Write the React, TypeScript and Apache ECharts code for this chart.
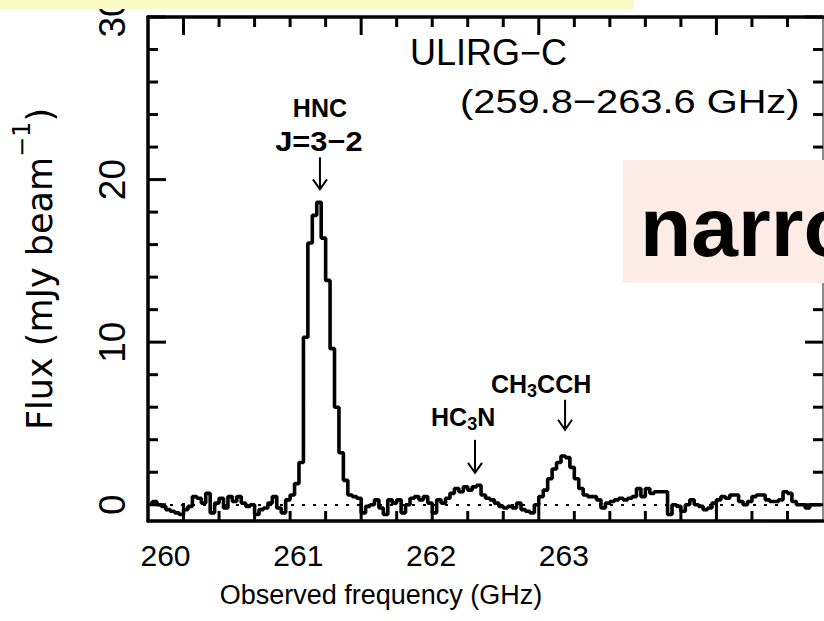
import React, { useEffect, useRef } from "react";
import * as echarts from "echarts";

// ---- data -----------------------------------------------------------------
// spectrum: flux density per 25 MHz channel (mJy/beam)
const FLUX = [
  0.1, 0.2, 0.0, -0.1, -0.3, -0.4, -0.5, -0.6, -0.3, -0.1,
  0.5, 0.4, 0.1, 0.7, -0.5, 0.1, 0.4, -0.2, 0.5, 0.2,
  0.5, 0.1, -0.1, 0.0, -0.6, -0.3, -0.2, 0.1, 0.5, -0.2,
  -0.5, 0.3, 0.6, 1.3, 2.6, 10.3, 16.1, 17.8, 18.6, 16.4,
  13.8, 9.6, 6.0, 3.2, 1.5, 0.6, 0.5, 0.4, -0.5, -0.1,
  0.0, 0.3, -0.2, -0.6, 0.3, 0.1, 0.3, -0.5, 0.0, 0.4,
  0.5, 0.3, 0.5, 0.1, -0.5, 0.3, 0.1, 0.4, 0.7, 1.0,
  0.8, 1.1, 0.9, 1.1, 1.2, 0.6, 0.4, 0.3, 0.1, -0.1,
  -0.2, -0.1, -0.2, 0.1, -0.3, -0.4, -0.5, 0.0, 0.5, 0.9,
  1.6, 2.2, 2.6, 3.0, 2.9, 2.3, 1.6, 1.0, 0.6, 0.5,
  0.5, 0.3, -0.2, 0.1, 0.2, 0.3, 0.4, 0.3, 0.4, 0.5,
  1.0, 0.5, 1.0, 0.7, 0.8, 0.8, 0.8, -0.6, 0.0, -0.1,
  -0.4, 0.0, 0.3, 0.0, -0.1, -0.3, -0.2, 0.1, 0.3, 0.5,
  0.4, 0.6, 0.6, 0.2, 0.0, 0.2, 0.5, 0.6, 0.6, 0.3,
  0.2, 0.2, 0.3, 0.8, 0.7, 0.2, 0.0, 0.0, -0.2, 0.0,
  0.0, 0.0,
];
const CHANNEL_START_GHZ = 259.8125; // centre of first channel
const CHANNEL_WIDTH_GHZ = 0.025;

const X_RANGE = [259.8, 263.6];
const Y_RANGE = [-1, 30];
const X_MAJOR_TICKS = [260, 261, 262, 263];
const X_MINOR_TICKS = [
  260.2, 260.4, 260.6, 260.8, 261.2, 261.4, 261.6, 261.8,
  262.2, 262.4, 262.6, 262.8, 263.2, 263.4,
];
const X_TICK_LABELS = [260, 261, 262, 263];
const Y_MAJOR_TICKS = [0, 10, 20, 30];
const Y_MINOR_TICKS = [2, 4, 6, 8, 12, 14, 16, 18, 22, 24, 26, 28];

// line identifications: arrow (frequency, from flux, to flux)
const LINE_ARROWS = [
  { freq: 260.768, from: 21.37, to: 19.4 },
  { freq: 261.641, from: 3.99, to: 1.96 },
  { freq: 262.148, from: 6.46, to: 4.61 },
];
const LINE_LABELS = [
  { text: "HNC", freq: 260.768, flux: 24.39 },
  { text: "J=3−2", freq: 260.762, flux: 22.36 },
  { text: "HC{s|3}N", freq: 261.574, flux: 5.41 },
  { text: "CH{s|3}CCH", freq: 262.013, flux: 7.44 },
];
const TITLE_LINES = [
  { text: "ULIRG−C", freq: 261.275, flux: 27.81 },
  { text: "(259.8−263.6 GHz)", freq: 261.557, flux: 24.82 },
];
const BANNER_TEXT = "narrow";

// ---- styling / layout ------------------------------------------------------
const FONT = "'Liberation Sans', Arial, Helvetica, sans-serif";
const FONT_WIDE = "'DejaVu Sans', 'Liberation Sans', sans-serif";
const W = 824;
const H = 621;
const GRID = { left: 148, right: 1, top: 17, bottom: 100 };
// tick-label scale of the original figure (labels not aligned with ticks)
const LABEL_AXIS_MIN = 259.8682;
const LABEL_AXIS_MAX = 264.951;
const MAJOR_LEN = 18;
const MINOR_LEN = 10;
const TICK_COLOR = "#000";
const TICK_WIDTH = 3;

function frameLine(position: string, isX: boolean, extra: any = {}) {
  return {
    type: "value",
    position,
    min: isX ? X_RANGE[0] : Y_RANGE[0],
    max: isX ? X_RANGE[1] : Y_RANGE[1],
    splitLine: { show: false },
    axisLabel: { show: false },
    axisTick: { show: false },
    axisLine: {
      show: true,
      onZero: false,
      lineStyle:
        position === "right"
          ? { color: "#666", width: 1.5 }
          : { color: "#000", width: 3.5 },
    },
    ...extra,
  };
}

export default function App() {
  const ref = useRef<HTMLDivElement>(null);

  useEffect(() => {
    document.body.style.margin = "0";
    if (!ref.current) return;
    const chart = echarts.init(ref.current, null, { renderer: "svg" });

    const seriesData = FLUX.map((v, i) => [
      CHANNEL_START_GHZ + i * CHANNEL_WIDTH_GHZ,
      v,
    ]);

    const yLeft = frameLine("left", false, {
      axisLabel: {
        show: true,
        customValues: Y_MAJOR_TICKS,
        rotate: 90,
        margin: 17,
        fontSize: 37,
        fontFamily: FONT,
        color: "#000",
      },
      name: "Flux (mJy beam{sup|−1})",
      nameLocation: "middle",
      nameRotate: 90,
      nameGap: 78,
      nameTextStyle: {
        fontFamily: FONT_WIDE,
        fontSize: 35,
        color: "#000",
        lineHeight: 60,
        rich: {
          sup: {
            fontFamily: FONT_WIDE,
            fontSize: 24,
            lineHeight: 24,
            verticalAlign: "top",
            color: "#000",
          },
        },
      },
    });

    const labelAxis = {
      type: "value",
      position: "bottom",
      min: LABEL_AXIS_MIN,
      max: LABEL_AXIS_MAX,
      splitLine: { show: false },
      axisLine: { show: false, onZero: false },
      axisTick: { show: false },
      axisLabel: {
        show: true,
        customValues: X_TICK_LABELS,
        margin: 19,
        fontSize: 30,
        fontFamily: FONT,
        color: "#000",
      },
      name: "Observed frequency (GHz)",
      nameLocation: "middle",
      nameGap: 60,
      nameTextStyle: {
        fontSize: 27,
        fontFamily: FONT,
        color: "#000",
        padding: [0, 209, 0, 0],
      },
    };

    chart.setOption({
      animation: false,
      backgroundColor: "#fff",
      grid: { ...GRID, containLabel: false, outerBoundsMode: "none" },
      xAxis: [frameLine("bottom", true), frameLine("top", true), labelAxis],
      yAxis: [yLeft, frameLine("right", false)],
      series: [
        {
          type: "line",
          xAxisIndex: 0,
          yAxisIndex: 0,
          data: seriesData,
          step: "middle",
          symbol: "none",
          clip: true,
          lineStyle: { color: "#000", width: 3.6 },
          z: 5,
          markLine: {
            silent: true,
            symbol: "none",
            label: { show: false },
            lineStyle: { color: "#000", width: 2, type: [3, 8] },
            data: [{ yAxis: 0 }],
          },
        },
      ],
    });

    const toPx = (f: number, v: number) =>
      chart.convertToPixel({ seriesIndex: 0 }, [f, v]) as number[];

    // frame ticks on all four sides (inside), placed via the axes
    const tickPolys: any[] = [];
    const addTick = (pts: number[][]) =>
      tickPolys.push({
        type: "polyline",
        z: 60,
        shape: { points: pts },
        style: { stroke: TICK_COLOR, lineWidth: TICK_WIDTH, fill: null },
      });
    const xt = (vals: number[], len: number) =>
      vals.forEach((v) => {
        const b = toPx(v, Y_RANGE[0]);
        const t = toPx(v, Y_RANGE[1]);
        addTick([
          [b[0], b[1]],
          [b[0], b[1] - len],
        ]);
        addTick([
          [t[0], t[1]],
          [t[0], t[1] + len],
        ]);
      });
    const yt = (vals: number[], len: number) =>
      vals.forEach((v) => {
        const l = toPx(X_RANGE[0], v);
        const r = toPx(X_RANGE[1], v);
        addTick([
          [l[0], l[1]],
          [l[0] + len, l[1]],
        ]);
        addTick([
          [r[0], r[1]],
          [r[0] - len, r[1]],
        ]);
      });
    xt(X_MAJOR_TICKS, MAJOR_LEN);
    xt(X_MINOR_TICKS, MINOR_LEN);
    yt(Y_MAJOR_TICKS, MAJOR_LEN);
    yt(Y_MINOR_TICKS, MINOR_LEN);

    const graphics: any[] = [];

    LINE_ARROWS.forEach((a) => {
      const p0 = toPx(a.freq, a.from);
      const p1 = toPx(a.freq, a.to);
      graphics.push({
        type: "line",
        z: 50,
        shape: { x1: p0[0], y1: p0[1], x2: p1[0], y2: p1[1] },
        style: { stroke: "#000", lineWidth: 2 },
      });
      graphics.push({
        type: "polyline",
        z: 50,
        shape: {
          points: [
            [p1[0] - 7, p1[1] - 10],
            [p1[0], p1[1]],
            [p1[0] + 7, p1[1] - 10],
          ],
        },
        style: { stroke: "#000", lineWidth: 2, fill: null },
      });
    });

    LINE_LABELS.forEach((l, i) => {
      const p = toPx(l.freq, l.flux);
      const isJ = i === 1;
      graphics.push({
        type: "text",
        z: 50,
        x: p[0],
        y: p[1],
        scaleX: isJ ? 1.1 : 1,
        style: {
          text: l.text,
          fill: "#000",
          fontFamily: FONT,
          fontWeight: "bold",
          fontSize: isJ ? 28 : 25,
          lineHeight: 32,
          align: "center",
          verticalAlign: "middle",
          textAlign: "center",
          textVerticalAlign: "middle",
          rich: {
            s: {
              fontFamily: FONT,
              fontWeight: "bold",
              fontSize: 18,
              lineHeight: 18,
              verticalAlign: "bottom",
              fill: "#000",
            },
          },
        },
      });
    });

    TITLE_LINES.forEach((t, i) => {
      const p = toPx(t.freq, t.flux);
      graphics.push({
        type: "text",
        z: 50,
        x: p[0],
        y: p[1],
        scaleX: i === 0 ? 1 : 1.17,
        style: {
          text: t.text,
          fill: "#000",
          fontFamily: FONT,
          fontSize: i === 0 ? 36 : 34,
          align: "left",
          verticalAlign: "middle",
          textAlign: "left",
          textVerticalAlign: "middle",
        },
      });
    });

    // slide overlays (cropped boxes)
    graphics.push({
      type: "rect",
      z: 80,
      shape: { x: 0, y: 0, width: 634, height: 9 },
      style: { fill: "#fafac6" },
    });
    graphics.push({
      type: "rect",
      z: 80,
      shape: { x: 623, y: 160, width: W - 623, height: 123 },
      style: { fill: "#fdece6" },
    });
    graphics.push({
      type: "text",
      z: 90,
      x: 640,
      y: 226.6,
      style: {
        text: BANNER_TEXT,
        fill: "#000",
        fontFamily: FONT,
        fontWeight: "bold",
        fontSize: 84,
        align: "left",
        verticalAlign: "middle",
        textAlign: "left",
        textVerticalAlign: "middle",
      },
    });

    chart.setOption({
      graphic: [{ type: "group", z: 60, children: tickPolys }, ...graphics],
    });

    return () => chart.dispose();
  }, []);

  return <div ref={ref} style={{ width: W, height: H }} />;
}
